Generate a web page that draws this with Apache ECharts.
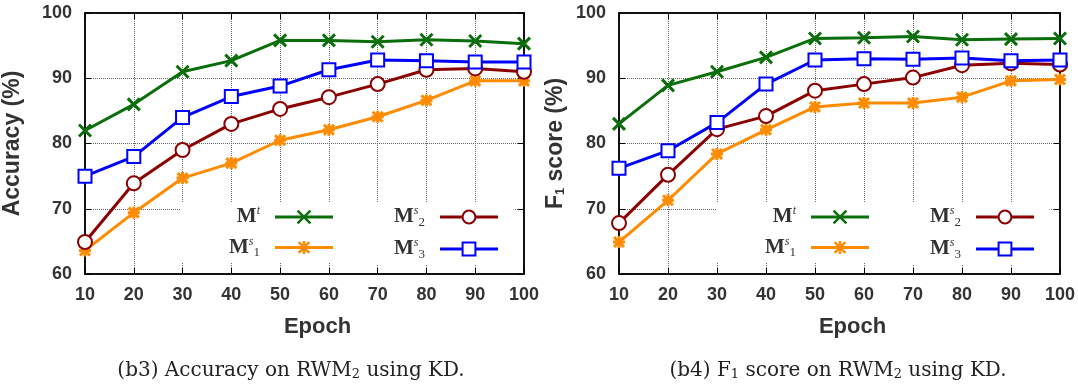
<!DOCTYPE html>
<html>
<head>
<meta charset="utf-8">
<script src="https://cdn.jsdelivr.net/npm/echarts@6/dist/echarts.min.js"></script>
<style>
  html, body { margin: 0; padding: 0; background: #fff; }
  #main { width: 1078px; height: 390px; }
</style>
</head>
<body>
<div id="main"></div>
<script>
// epochs on the x axis
var epochs = [10, 20, 30, 40, 50, 60, 70, 80, 90, 100];

// (b3) accuracy
var accMt = [82.0, 86.0, 91.0, 92.7, 95.8, 95.8, 95.6, 95.9, 95.7, 95.3];
var accM1 = [63.6, 69.4, 74.7, 77.0, 80.5, 82.1, 84.1, 86.6, 89.6, 89.6];
var accM2 = [64.9, 73.9, 79.0, 83.0, 85.3, 87.1, 89.1, 91.3, 91.5, 91.0];
var accM3 = [75.0, 78.0, 84.0, 87.2, 88.8, 91.3, 92.8, 92.7, 92.5, 92.5];

// (b4) F1 score
var f1Mt = [83.0, 88.9, 91.0, 93.2, 96.1, 96.2, 96.4, 95.9, 96.0, 96.1];
var f1M1 = [64.9, 71.3, 78.4, 82.1, 85.6, 86.2, 86.2, 87.1, 89.6, 89.8];
var f1M2 = [67.8, 75.2, 82.2, 84.2, 88.1, 89.1, 90.1, 92.0, 92.3, 92.1];
var f1M3 = [76.2, 78.9, 83.2, 89.1, 92.8, 93.0, 92.9, 93.1, 92.7, 92.8];

var yTicks = [60, 70, 80, 90, 100];

var chart = echarts.init(document.getElementById('main'));

var sans = 'Liberation Sans';
var serif = 'DejaVu Serif';
var txt = '#333';

var style = {
    Mt: { color: '#0a6e0a', symbol: 'path://M0,0L10,10M10,0L0,10', size: 12 },
    M1: { color: '#ff8c00', symbol: 'path://M0,0L10,10M10,0L0,10M5,-1L5,11M-1,5L11,5', size: 12 },
    M2: { color: '#8b0000', symbol: 'emptyCircle', size: 14 },
    M3: { color: '#0000ff', symbol: 'emptyRect', size: 13 }
};

var legendLabel = {
    Mt: '{m|M}{sup|t}{g| }',
    M1: '{m|M}{sup|s}{sub|1}{g| }',
    M2: '{m|M}{sup|s}{sub|2}{g| }',
    M3: '{m|M}{sup|s}{sub|3}{g| }'
};

var legendText = {
    width: 40,
    overflow: 'none',
    color: '#333',
    rich: {
        m: { fontFamily: 'Liberation Serif', fontWeight: 'bold', fontSize: 21, lineHeight: 24, color: '#333' },
        sup: { fontFamily: 'Liberation Serif', fontStyle: 'italic', fontSize: 12, verticalAlign: 'top', lineHeight: 12, color: '#333' },
        sub: { fontFamily: 'Liberation Serif', fontSize: 13, verticalAlign: 'bottom', lineHeight: 12, color: '#333' },
        g: { width: 10, fontSize: 10 }
    }
};

function mkSeries(name, data, gi) {
    var s = style[name];
    return {
        name: name,
        type: 'line',
        xAxisIndex: gi * 2,
        yAxisIndex: gi * 2,
        data: epochs.map(function (e, i) { return [e, data[i]]; }),
        symbol: s.symbol,
        symbolSize: s.size,
        showAllSymbol: true,
        lineStyle: { color: s.color, width: 3 },
        itemStyle: { color: s.color, borderColor: s.color, borderWidth: 3 },
        emphasis: { disabled: true },
        z: 3
    };
}

function mkLegend(names, left, top, pad) {
    return {
        data: names,
        orient: 'vertical',
        align: 'right',
        left: left,
        top: top,
        padding: pad,
        itemGap: 8,
        itemWidth: 58,
        itemHeight: 16,
        backgroundColor: '#fff',
        selectedMode: false,
        lineStyle: { width: 3 },
        itemStyle: { borderWidth: 2.5 },
        formatter: function (n) { return legendLabel[n]; },
        textStyle: legendText
    };
}

function xAxes(gi, name) {
    return [{
        type: 'value', gridIndex: gi, min: 10, max: 100, interval: 10,
        name: name, nameLocation: 'middle', nameGap: 42,
        nameTextStyle: { fontFamily: sans, fontWeight: 'bold', fontSize: 22, color: txt, padding: [0, 0, 0, 26] },
        axisLine: { lineStyle: { color: '#000', width: 1.5 } },
        axisTick: { inside: true, length: 6, lineStyle: { color: '#000' } },
        axisLabel: { fontFamily: sans, fontWeight: 'bold', fontSize: 18, color: txt, margin: 12 },
        splitLine: { show: true, lineStyle: { type: 'dotted', color: '#666', width: 1 } }
    }, {
        type: 'value', gridIndex: gi, min: 10, max: 100, interval: 10, position: 'top',
        axisLine: { lineStyle: { color: '#000', width: 1.5 } },
        axisTick: { inside: true, length: 6, lineStyle: { color: '#000' } },
        axisLabel: { show: false },
        splitLine: { show: false }
    }];
}

function yAxes(gi, name, gap, rich) {
    return [{
        type: 'value', gridIndex: gi, min: yTicks[0], max: yTicks[yTicks.length - 1], interval: 10,
        name: name, nameLocation: 'middle', nameGap: gap, nameRotate: 90,
        nameTextStyle: { fontFamily: sans, fontWeight: 'bold', fontSize: 23, color: txt, rich: rich },
        axisLine: { lineStyle: { color: '#000', width: 1.5 } },
        axisTick: { inside: true, length: 6, lineStyle: { color: '#000' } },
        axisLabel: { fontFamily: sans, fontWeight: 'bold', fontSize: 18, color: txt, margin: 13 },
        splitLine: { show: true, lineStyle: { type: 'dotted', color: '#666', width: 1 } }
    }, {
        type: 'value', gridIndex: gi, min: yTicks[0], max: yTicks[yTicks.length - 1], interval: 10, position: 'right',
        axisLine: { lineStyle: { color: '#000', width: 1.5 } },
        axisTick: { inside: true, length: 6, lineStyle: { color: '#000' } },
        axisLabel: { show: false },
        splitLine: { show: false }
    }];
}

var f1Rich = {
    b: { fontFamily: sans, fontWeight: 'bold', fontSize: 23, color: txt },
    s: { fontFamily: sans, fontSize: 13, color: txt, verticalAlign: 'bottom', lineHeight: 14 }
};

var capRich = {
    t: { fontFamily: serif, fontSize: 20, fill: '#222' },
    s: { fontFamily: serif, fontSize: 13, fill: '#222', verticalAlign: 'bottom', lineHeight: 14 }
};

option = {
    animation: false,
    backgroundColor: '#fff',
    grid: [
        { left: 82, top: 13, width: 442, height: 261, show: true, borderColor: '#000', borderWidth: 1.5 },
        { left: 619, top: 13, width: 442, height: 261, show: true, borderColor: '#000', borderWidth: 1.5 }
    ],
    xAxis: xAxes(0, 'Epoch').concat(xAxes(1, 'Epoch')),
    yAxis: yAxes(0, 'Accuracy (%)', 61).concat(yAxes(1, '{b|F}{s|1}{b| score (%)}', 52, f1Rich)),
    legend: [
        mkLegend(['Mt', 'M1'], 180, 202, [3, 30, 3, 49]),
        mkLegend(['M2', 'M3'], 362, 202, [3, 14, 3, 32]),
        mkLegend(['Mt', 'M1'], 717, 202, [3, 31, 3, 48]),
        mkLegend(['M2', 'M3'], 899, 202, [3, 14, 3, 31])
    ],
    graphic: [{
        type: 'text', x: 291, y: 371,
        style: {
            text: '{t|(b3) Accuracy on RWM}{s|2}{t| using KD.}',
            align: 'center', verticalAlign: 'middle',
            rich: capRich
        }
    }, {
        type: 'text', x: 838, y: 371,
        style: {
            text: '{t|(b4) F}{s|1}{t| score on RWM}{s|2}{t| using KD.}',
            align: 'center', verticalAlign: 'middle',
            rich: capRich
        }
    }],
    series: [
        mkSeries('Mt', accMt, 0),
        mkSeries('M1', accM1, 0),
        mkSeries('M2', accM2, 0),
        mkSeries('M3', accM3, 0),
        mkSeries('Mt', f1Mt, 1),
        mkSeries('M1', f1M1, 1),
        mkSeries('M2', f1M2, 1),
        mkSeries('M3', f1M3, 1)
    ]
};

chart.setOption(option);
</script>
</body>
</html>
